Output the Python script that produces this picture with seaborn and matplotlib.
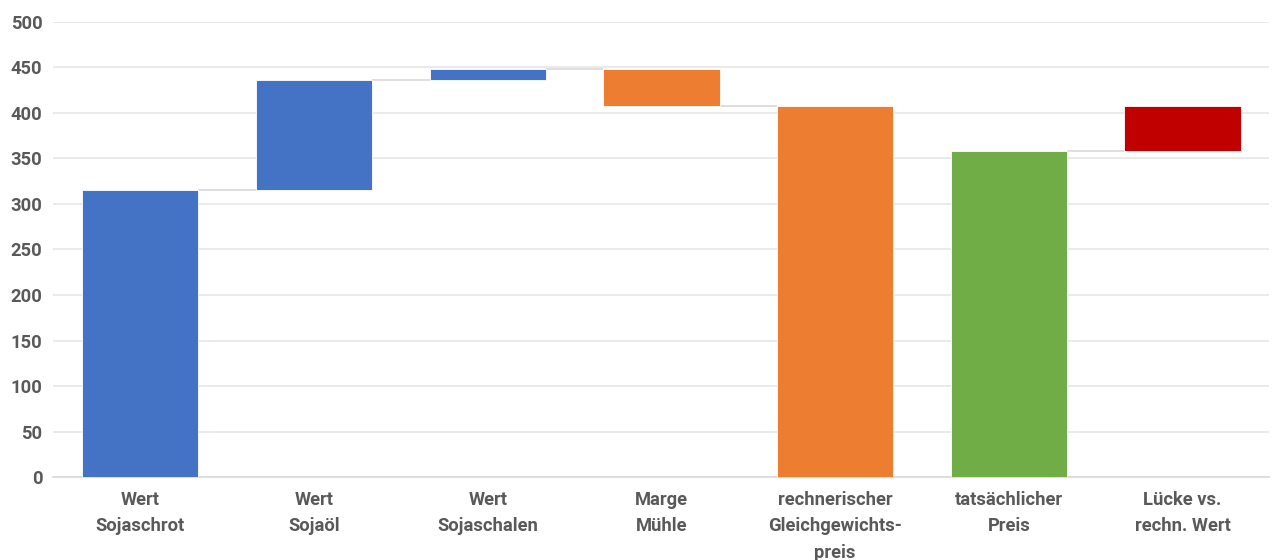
import pandas as pd
import matplotlib.pyplot as plt
import seaborn as sns
import numpy as np

# Daten (Wasserfall: Basis + Höhe je Kategorie)
kategorien = ["Wert\nSojaschrot", "Wert\nSojaöl", "Wert\nSojaschalen", "Marge\nMühle",
              "rechnerischer\nGleichgewichts-\npreis", "tatsächlicher\nPreis", "Lücke vs.\nrechn. Wert"]
basis = [0, 315, 436, 408, 0, 0, 358]
hoehe = [315, 121, 12, 40, 408, 358, 50]
farben = ["#4472C4", "#4472C4", "#4472C4", "#ED7D31", "#ED7D31", "#70AD47", "#C00000"]
# Endstand jeder Kategorie (für Verbindungslinien)
endstand = [315, 436, 448, 408, 408, 358, 408]

df = pd.DataFrame({"kategorie": kategorien, "basis": basis, "hoehe": hoehe})

sns.set_style("white")
plt.rcParams['font.family'] = ['Roboto', 'DejaVu Sans']
grau = "#595959"

fig = plt.figure(figsize=(12.72, 5.6), dpi=100)
ax = fig.add_axes([0.042, 0.148, 0.956, 0.813])

sns.barplot(data=df, x="kategorie", y="hoehe", color=farben[0], saturation=1,
            bottom=df["basis"], width=0.67, ax=ax,
            edgecolor="white", linewidth=0.6, zorder=3)

# Farben je Balken
balken = sorted(ax.patches, key=lambda p: p.get_x())
for p, c in zip(balken, farben):
    p.set_facecolor(c)

# Verbindungslinien zwischen den Balken
for i in range(len(kategorien) - 1):
    b1, b2 = balken[i], balken[i + 1]
    stufe = endstand[i]
    unten, oben = basis[i + 1], basis[i + 1] + hoehe[i + 1]
    if stufe == unten or stufe == oben:
        ax.hlines(stufe, b1.get_x() + b1.get_width(), b2.get_x(),
                  color="#d9d9d9", linewidth=1.2, zorder=2)

ax.set_ylim(0, 500)
ax.set_xlim(-0.5, len(kategorien) - 0.5)
ax.set_yticks(np.arange(0, 501, 50))
ax.yaxis.grid(True, color="#e6e6e6", linewidth=1.2, zorder=0)
ax.set_axisbelow(True)
ax.set_xlabel("")
ax.set_ylabel("")

for s in ["top", "right", "left"]:
    ax.spines[s].set_visible(False)
ax.spines["bottom"].set_color("#d9d9d9")
ax.spines["bottom"].set_linewidth(1.2)

ax.tick_params(axis="both", length=0, labelsize=13.2, colors=grau, pad=8)
ax.tick_params(axis="x", pad=10)
for lbl in ax.get_xticklabels() + ax.get_yticklabels():
    lbl.set_fontweight("bold")
for lbl in ax.get_xticklabels():
    lbl.set_linespacing(1.6)
    lbl.set_verticalalignment("top")

plt.savefig("out.png", dpi=100)
